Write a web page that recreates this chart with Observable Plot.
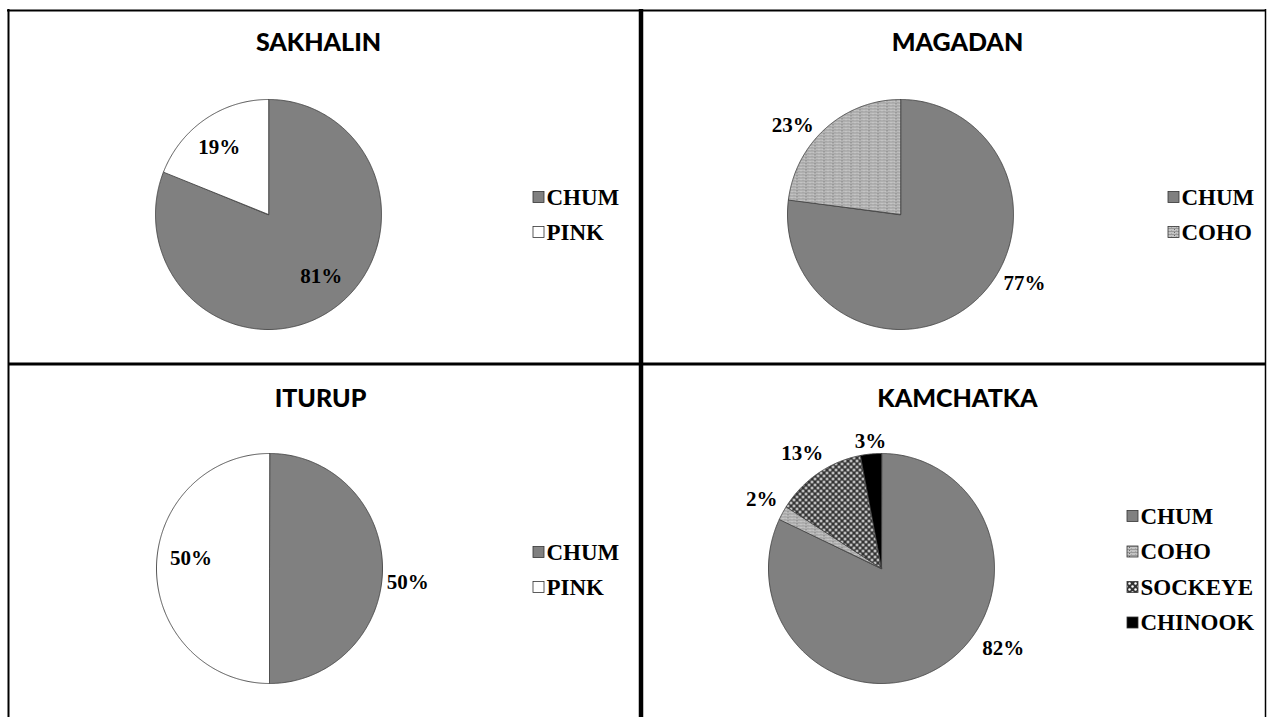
<!DOCTYPE html>
<html>
<head>
<meta charset="utf-8">
<script src="https://cdn.jsdelivr.net/npm/d3@7"></script>
<script src="https://cdn.jsdelivr.net/npm/@observablehq/plot@0.6"></script>
<style>
  body { margin: 0; background: #fff; }
  #chart svg { display: block; }
</style>
</head>
<body>
<svg width="0" height="0" style="position:absolute">
  <defs>
    <pattern id="cohoPat" width="9" height="3" patternUnits="userSpaceOnUse">
      <rect width="9" height="3" fill="#c4c4c4"/>
      <rect y="0" width="9" height="1" fill="#9a9a9a"/>
      <rect x="1" y="2" width="1" height="1" fill="#a8a8a8"/>
      <rect x="6" y="2" width="1" height="1" fill="#a8a8a8"/>
      <rect x="4" y="1" width="1" height="1" fill="#6a6a6a"/>
    </pattern>
    <pattern id="sockPat" width="6" height="6" patternUnits="userSpaceOnUse">
      <rect width="6" height="6" fill="#333"/>
      <circle cx="1.5" cy="1.5" r="1.25" fill="#fff"/>
      <circle cx="4.5" cy="4.5" r="1.25" fill="#fff"/>
    </pattern>
  </defs>
</svg>
<div id="chart"></div>
<script>
// ---- data ----
const regions = ["SAKHALIN", "MAGADAN", "ITURUP", "KAMCHATKA"];

const sakhalinSpecies = ["CHUM", "PINK"];
const sakhalinShares = [81, 19];

const magadanSpecies = ["CHUM", "COHO"];
const magadanShares = [77, 23];

const iturupSpecies = ["CHUM", "PINK"];
const iturupShares = [50, 50];

const kamchatkaSpecies = ["CHUM", "COHO", "SOCKEYE", "CHINOOK"];
const kamchatkaShares = [82, 2, 13, 3];

const speciesNames = ["CHUM", "PINK", "COHO", "SOCKEYE", "CHINOOK"];
const speciesFills = ["#808080", "#ffffff", "url(#cohoPat)", "url(#sockPat)", "#000000"];

// ---- layout (pixels) ----
const rx = 113, ry = 115;
const layout = {
  SAKHALIN:  {cx: 268, cy: 214, titleX: 318, titleY: 42, legendX: 533, legendY: 197, legendStep: 35,
              labelNudge: [-6.8, -2.5], labelFactor: [0.71, 0.73]},
  MAGADAN:   {cx: 900, cy: 214, titleX: 957, titleY: 42, legendX: 1168, legendY: 197, legendStep: 35,
              labelNudge: [-20, -9.4], labelFactor: [1.25, 1.23]},
  ITURUP:    {cx: 269, cy: 568, titleX: 320, titleY: 398, legendX: 533, legendY: 552, legendStep: 35,
              labelNudge: [5.7, 7.2], labelFactor: [1.23, 0.70]},
  KAMCHATKA: {cx: 881, cy: 568, titleX: 957, titleY: 398, legendX: 1127, legendY: 516, legendStep: 35.5,
              labelNudge: [-24.9, 0.9, -0.9, 0.4], labelFactor: [1.28, 1.22, 1.22, 1.11]}
};

const panels = [
  {region: regions[0], species: sakhalinSpecies, values: sakhalinShares},
  {region: regions[1], species: magadanSpecies, values: magadanShares},
  {region: regions[2], species: iturupSpecies, values: iturupShares},
  {region: regions[3], species: kamchatkaSpecies, values: kamchatkaShares}
];

const wedgePts = [], labels = [], legendRows = [], titles = [];
panels.forEach(p => {
  const L = layout[p.region];
  const arcs = d3.pie().sort(null).value(d => d)(p.values);
  arcs.forEach((a, i) => {
    const id = p.region + "-" + p.species[i];
    const sp = p.species[i];
    wedgePts.push({id, species: sp, x: L.cx, y: L.cy});
    const span = a.endAngle - a.startAngle;
    const n = Math.max(2, Math.ceil(span / (Math.PI / 360)));
    for (let k = 0; k <= n; k++) {
      const t = a.startAngle + span * k / n;
      wedgePts.push({id, species: sp, x: L.cx + rx * Math.sin(t), y: L.cy - ry * Math.cos(t)});
    }
    const mid = (a.startAngle + a.endAngle) / 2 + L.labelNudge[i] * Math.PI / 180;
    const f = L.labelFactor[i];
    labels.push({text: p.values[i] + "%", x: L.cx + f * rx * Math.sin(mid), y: L.cy - f * ry * Math.cos(mid)});
    legendRows.push({species: sp, x: L.legendX, y: L.legendY + i * L.legendStep});
  });
  titles.push({text: p.region, x: L.titleX, y: L.titleY});
});

const hBorders = [{y: 10, x1: 7, x2: 1266}, {y: 363.5, x1: 8, x2: 1266}];
const vBorders = [{x: 8, y1: 9, y2: 717}, {x: 640.5, y1: 9, y2: 717}, {x: 1265, y1: 9, y2: 717}];

const serif = "'Liberation Serif', 'Times New Roman', serif";

const chart = Plot.plot({
  width: 1272,
  height: 717,
  margin: 0,
  x: {type: "identity", axis: null},
  y: {type: "identity", axis: null},
  color: {domain: speciesNames, range: speciesFills},
  marks: [
    Plot.line(wedgePts, {x: "x", y: "y", z: "id", fill: "species", stroke: "#444", strokeWidth: 0.9, curve: "linear-closed"}),
    Plot.text(labels, {x: "x", y: "y", text: "text", fontFamily: serif, fontWeight: "bold", fontSize: 21, fill: "#000"}),
    Plot.rect(legendRows, {x1: "x", x2: d => d.x + 11, y1: d => d.y - 5.5, y2: d => d.y + 5.5, fill: "species", stroke: "#333", strokeWidth: 0.8}),
    Plot.text(legendRows, {x: d => d.x + 13, y: "y", text: "species", textAnchor: "start", fontFamily: serif, fontWeight: "bold", fontSize: 23, fill: "#000"}),
    Plot.text(titles, {x: "x", y: "y", text: "text", fontFamily: "Lato, 'Open Sans', sans-serif", fontWeight: 900, fontSize: 25, fill: "#000"}),
    Plot.ruleY(hBorders.slice(0, 1), {y: "y", x1: "x1", x2: "x2", stroke: "#000", strokeWidth: 2}),
    Plot.ruleY(hBorders.slice(1), {y: "y", x1: "x1", x2: "x2", stroke: "#000", strokeWidth: 3}),
    Plot.ruleX(vBorders.slice(0, 1), {x: "x", y1: "y1", y2: "y2", stroke: "#000", strokeWidth: 2}),
    Plot.ruleX(vBorders.slice(1, 2), {x: "x", y1: "y1", y2: "y2", stroke: "#000", strokeWidth: 4.5}),
    Plot.ruleX(vBorders.slice(2), {x: "x", y1: "y1", y2: "y2", stroke: "#000", strokeWidth: 1.5})
  ]
});
document.getElementById("chart").appendChild(chart);
</script>
</body>
</html>
